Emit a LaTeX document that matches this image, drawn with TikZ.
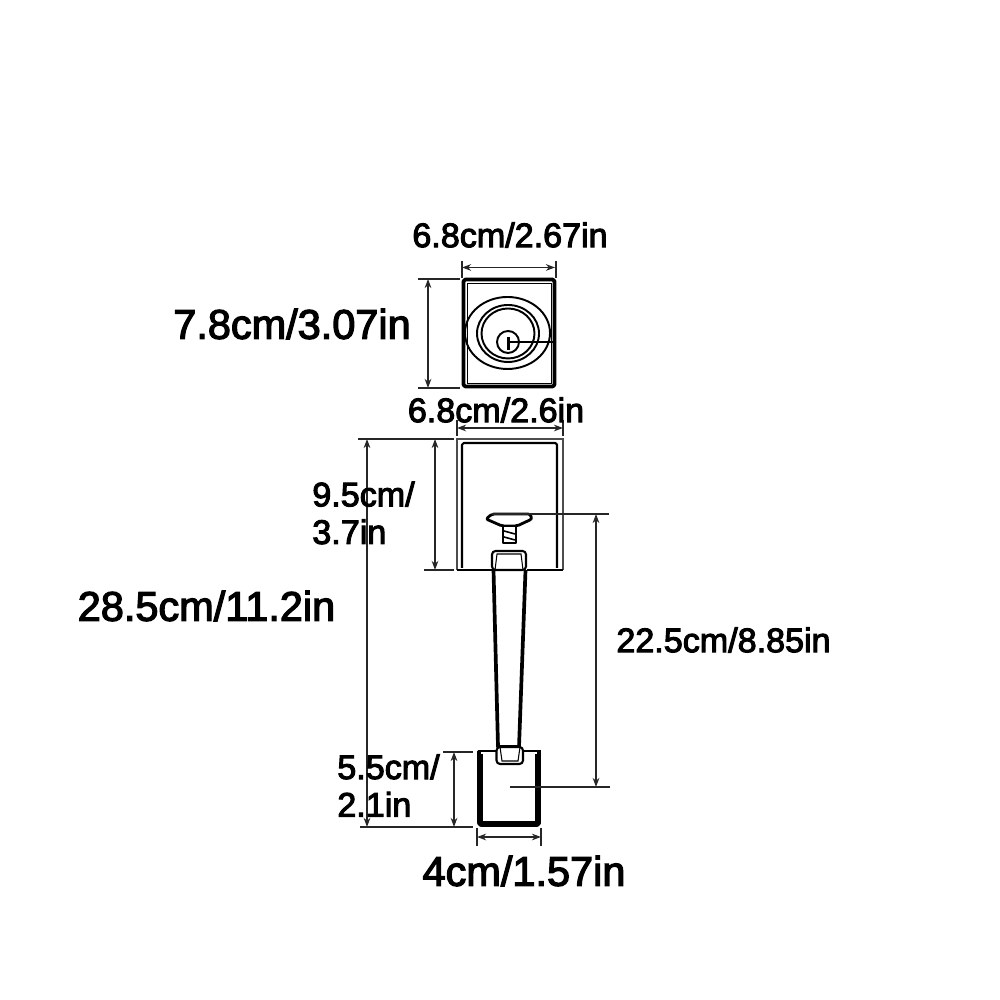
\documentclass[tikz,border=0pt]{standalone}
\usepackage{fontspec}
\setmainfont[FakeBold=3]{Liberation Sans}
\usetikzlibrary{arrows.meta, positioning, calc}

\begin{document}
\begin{tikzpicture}[
    >={Stealth[length=2.6pt,width=1.9pt]},
    part/.style={draw=black, line width=0.6pt, line join=round},
    thick part/.style={draw=black, line width=1.05pt, line join=round},
    dim/.style={<->, line width=0.36pt, color=black!85},
    ext/.style={line width=0.36pt, color=black!85},
    label small/.style={font=\fontsize{9.7}{10.7}\selectfont, align=left, inner sep=0pt},
    label big/.style={font=\fontsize{11.8}{14}\selectfont, inner sep=0pt}
]
\useasboundingbox (0,0) rectangle (10,10);

% === DEADBOLT PLATE ===
\draw[thick part, rounded corners=0.5pt] (4.635,7.205) rectangle (5.545,6.135);
\draw[line width=0.25pt] (4.67,7.17) rectangle (5.51,6.17);
\draw[line width=0.55pt] (5.075,6.67) ellipse (0.425 and 0.36);
\draw[line width=0.55pt] (5.08,6.665) ellipse (0.31 and 0.285);
\draw[line width=0.55pt] (5.08,6.665) ellipse (0.265 and 0.25);
\draw[line width=0.55pt] (5.08,6.58) circle (0.11);
\draw[line width=1pt] (5.085,6.63) -- (5.085,6.5);
\draw[line width=0.36pt] (5.08,6.58) -- (5.55,6.58);

% === ROSE PLATE ===
\draw[line width=0.4pt, color=black!70] (4.57,4.30) -- (4.57,5.61) -- (5.63,5.61) -- (5.63,4.30);
\draw[part, rounded corners=0.5pt] (4.62,4.32) -- (4.62,5.57) -- (5.57,5.57) -- (5.57,4.32);
\draw[part, line width=0.8pt] (4.57,4.30) -- (4.93,4.30) (5.27,4.30) -- (5.63,4.30);

% === THUMB PIECE ===
\draw[part, fill=white, line width=0.8pt, rounded corners=0.6pt] (4.92,4.86) -- (5.30,4.86) -- (5.32,4.81) -- (5.17,4.74) -- (5.02,4.74) -- (4.86,4.81) -- cycle;
\draw[part, fill=white] (5.03,4.74) rectangle (5.16,4.57);
\draw[line width=0.45pt] (5.04,4.69) -- (5.15,4.66) (5.04,4.63) -- (5.15,4.60);

% === HANDLE ===
\draw[thick part, fill=white] (4.935,4.30) -- (4.98,2.53) -- (5.19,2.53) -- (5.255,4.30);
\draw[part, fill=white, rounded corners=1pt] (4.92,4.30) -- (4.92,4.49) -- (5.26,4.49) -- (5.26,4.30) -- cycle;
\draw[line width=0.3pt] (4.95,4.30) -- (4.97,4.46) -- (5.21,4.46) -- (5.23,4.30);

% === BOTTOM PLATE ===
\draw[part] (4.78,2.49) -- (5.41,2.49);
\draw[thick part, rounded corners=0.5pt] (4.79,2.49) -- (4.79,1.75) -- (5.39,1.75) -- (5.39,2.49);
\draw[line width=0.3pt] (4.82,2.46) -- (4.82,1.78) -- (5.36,1.78) -- (5.36,2.46);
\draw[part, fill=white, rounded corners=1pt] (4.965,2.53) -- (4.965,2.36) -- (5.23,2.36) -- (5.23,2.53) -- cycle;
\draw[line width=0.3pt] (5.0,2.53) -- (5.02,2.39) -- (5.18,2.39) -- (5.20,2.53);

% === DIMENSIONS ===
\coordinate (topL) at (4.62,7.325);
\coordinate (topR) at (5.55,7.325);
\draw[dim] (topL) -- (topR);
\draw[ext] (4.62,7.39) -- (4.62,7.22) (5.56,7.39) -- (5.56,7.22);

\coordinate (sideT) at (4.28,7.21);
\coordinate (sideB) at (4.28,6.12);
\draw[dim] (sideT) -- (sideB);
\draw[ext] (4.18,7.21) -- (4.60,7.21) (4.18,6.12) -- (4.60,6.12);

\coordinate (roseL) at (4.57,5.72);
\coordinate (roseR) at (5.63,5.72);
\draw[dim] (roseL) -- (roseR);
\draw[ext] (4.57,5.80) -- (4.57,5.64) (5.63,5.80) -- (5.63,5.64);

\coordinate (roseT) at (4.35,5.61);
\coordinate (roseB) at (4.35,4.30);
\draw[dim] (roseT) -- (roseB);
\draw[ext] (3.58,5.61) -- (4.54,5.61) (4.24,4.30) -- (4.54,4.30);

\coordinate (allT) at (3.67,5.61);
\coordinate (allB) at (3.67,1.73);
\draw[dim] (allT) -- (allB);
\draw[ext] (3.60,1.73) -- (4.73,1.73);

\coordinate (thumbT) at (5.96,4.86);
\coordinate (thumbB) at (5.96,2.13);
\draw[dim] (thumbT) -- (thumbB);
\draw[ext] (4.92,4.86) -- (6.09,4.86) (5.10,2.13) -- (6.10,2.13);

\coordinate (baseT) at (4.54,2.48);
\coordinate (baseB) at (4.54,1.73);
\draw[dim] (baseT) -- (baseB);
\draw[ext] (4.43,2.48) -- (4.73,2.48);

\coordinate (baseL) at (4.77,1.63);
\coordinate (baseR) at (5.41,1.63);
\draw[dim] (baseL) -- (baseR);
\draw[ext] (4.77,1.72) -- (4.77,1.54) (5.41,1.72) -- (5.41,1.54);

% === LABELS ===
\node[label small] (widthTop) at (5.10,7.65) {6.8cm/2.67in};
\node[label big] (heightTop) at (2.92,6.76) {7.8cm/3.07in};
\node[label small] (widthRose) at (4.96,5.90) {6.8cm/2.6in};
\node[label small] (heightRose) at (3.635,4.87) {9.5cm/\\3.7in};
\node[label big] (heightAll) at (2.065,3.94) {28.5cm/11.2in};
\node[label small] (heightThumb) at (7.235,3.60) {22.5cm/8.85in};
\node[label small] (heightBase) at (3.885,2.145) {5.5cm/\\2.1in};
\node[label big] (widthBase) at (5.24,1.29) {4cm/1.57in};

\end{tikzpicture}
\end{document}
